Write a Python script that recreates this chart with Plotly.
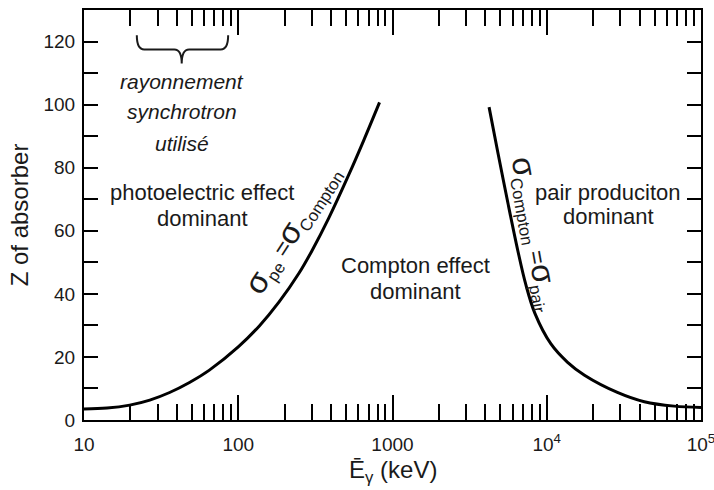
import numpy as np
import plotly.graph_objects as go

# ---- data ----
pe_compton_E = [10, 14.1, 19.8, 26.7, 35.9, 48.3, 65, 100, 137, 184, 248, 300, 386, 520, 650, 824]
pe_compton_Z = [3.5, 3.77, 4.72, 6.31, 8.72, 11.89, 15.82, 23.18, 29.84, 37.45, 46.6, 53.6,
                64.0, 77.7, 88.6, 100.7]

compton_pair_E = [4227, 4830, 5600, 6500, 7320, 8380, 10620, 13650, 17570, 28700,
                  42900, 67000, 100000]
compton_pair_Z = [99.2, 84.6, 68.8, 53.6, 42.9, 33.8, 24.2, 18.3, 14.2, 8.75,
                  5.8, 4.4, 4.0]

x_tickvals = [10, 100, 1000, 10000, 100000]
x_ticktext = ["10", "100", "1000", "10<sup>4</sup>", "10<sup>5</sup>"]
x_minor = [m * 10 ** k for k in range(1, 5) for m in range(2, 10)]
y_tickvals = [0, 20, 40, 60, 80, 100, 120]

FONT = "Arial, Liberation Sans, Helvetica, sans-serif"
INK = "#1a1a1a"

fig = go.Figure()
for xs, ys in [(pe_compton_E, pe_compton_Z), (compton_pair_E, compton_pair_Z)]:
    fig.add_trace(go.Scatter(x=xs, y=ys, mode="lines",
                             line=dict(color="black", width=3, shape="spline", smoothing=1.0),
                             hoverinfo="skip", showlegend=False))

axis_common = dict(showline=True, linecolor="black", linewidth=2, mirror="ticks",
                   ticks="inside", tickcolor="black", tickwidth=2,
                   showgrid=False, zeroline=False, automargin=False,
                   tickfont=dict(family=FONT, size=19, color=INK))

fig.update_xaxes(type="log", range=[1, 5], tickmode="array",
                 tickvals=x_tickvals, ticktext=x_ticktext, ticklen=25,
                 ticklabelstandoff=6, ticklabeloverflow="allow",
                 minor=dict(tickmode="array", tickvals=x_minor, ticks="inside",
                            ticklen=16, tickcolor="black", tickwidth=2, showgrid=False),
                 **axis_common)
fig.update_yaxes(range=[0, 130], tickmode="array", tickvals=y_tickvals, ticklen=14,
                 ticklabelstandoff=3,
                 minor=dict(dtick=10, ticks="inside", ticklen=14, tickcolor="black",
                            tickwidth=2, showgrid=False),
                 title=dict(text="Z of absorber", font=dict(family=FONT, size=24, color=INK),
                            standoff=8),
                 **axis_common)

# x-axis title placed as paper annotation (exact vertical position)
fig.add_annotation(x=0.5, y=-0.126, xref="paper", yref="paper", showarrow=False,
                   text="Ē<sub>γ</sub> (keV)", yanchor="middle",
                   font=dict(family=FONT, size=24, color=INK))

def ann(E, Z, text, size=22, italic=False, angle=0):
    t = f"<i>{text}</i>" if italic else text
    fig.add_annotation(x=np.log10(E), y=Z, xref="x", yref="y", text=t, showarrow=False,
                       textangle=angle, font=dict(family=FONT, size=size, color=INK))

# synchrotron label
ann(43, 107.2, "rayonnement", italic=True, size=21)
ann(43, 97.7, "synchrotron", italic=True, size=21)
ann(43, 87.8, "utilisé", italic=True, size=21)
# region labels
ann(58.6, 72, "photoelectric effect")
ann(58.6, 64, "dominant")
ann(1406, 49.1, "Compton effect")
ann(1406, 40.9, "dominant")
ann(25100, 72, "pair produciton")
ann(25100, 64.4, "dominant")
# curve labels
big = "<span style='font-size:32px'>σ</span>"
ann(226, 60.5, f"{big}<sub>pe</sub> ={big}<sub>Compton</sub>", size=24, angle=-57)
ann(8400, 59.0, f"{big}<sub>Compton</sub> ={big}<sub>pair</sub>", size=24, angle=80)

# brace over the synchrotron energy range (paper coordinates)
def px(E):
    return (np.log10(E) - 1) / 4
def py(Z):
    return Z / 130
x0, x1, xc = px(22), px(86), px(43)
yt, ym, yb = py(122), py(117.5), py(113)
d = 0.012
path = (f"M {x0},{yt} Q {x0},{ym} {x0+d},{ym} L {xc-d},{ym} Q {xc},{ym} {xc},{yb} "
        f"Q {xc},{ym} {xc+d},{ym} L {x1-d},{ym} Q {x1},{ym} {x1},{yt}")
fig.add_shape(type="path", path=path, xref="paper", yref="paper",
              line=dict(color=INK, width=2))

fig.update_layout(width=714, height=490, margin=dict(l=84, r=13, t=10, b=70),
                  plot_bgcolor="white", paper_bgcolor="white",
                  font=dict(family=FONT, color=INK))

fig.write_html("out.html")
